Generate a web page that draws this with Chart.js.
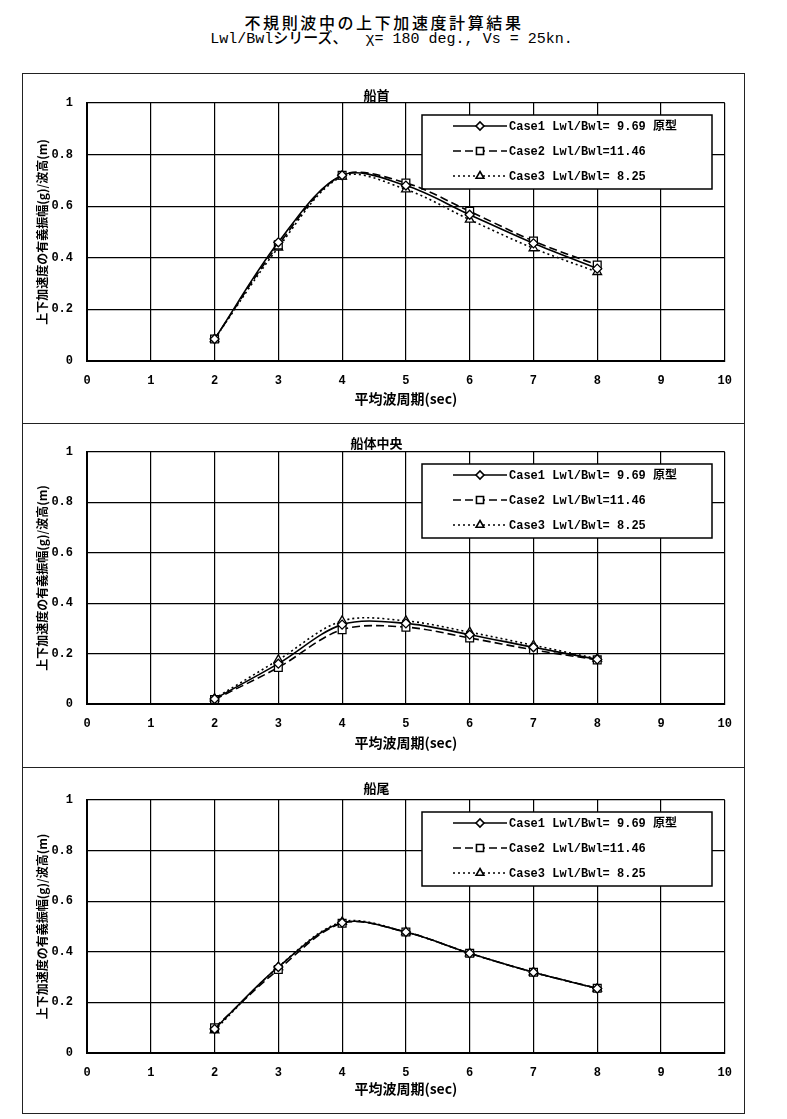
<!DOCTYPE html>
<html>
<head>
<meta charset="utf-8">
<script src="https://cdn.jsdelivr.net/npm/chart.js@4.4.1/dist/chart.umd.min.js"></script>
<style>
    body { margin: 0; background: #fff; width: 787px; height: 1119px; position: relative; overflow: hidden; }
    .hd { position: absolute; left: 0; white-space: pre; text-align: center; color: #000; }
    .frame { position: absolute; border: 1.5px solid #222; box-sizing: border-box; }
    canvas { position: absolute; }
</style>
</head>
<body>
<div class="hd" style="top:14px; width:768px; font: 500 16px/16px 'Noto Sans CJK JP'; letter-spacing: 2.6px;">不規則波中の上下加速度計算結果</div>
<div class="hd" style="top:32px; width:783px; font: 500 15px/15px 'Liberation Mono','Noto Sans CJK JP';">Lwl/Bwlシリーズ、  χ= 180 deg., Vs = 25kn.</div>

<script>
// --- Data ---

const periods = [2, 3, 4, 5, 6, 7, 8]; // 平均波周期 (sec)

const caseLabels = [
    'Case1 Lwl/Bwl= 9.69 原型',
    'Case2 Lwl/Bwl=11.46',
    'Case3 Lwl/Bwl= 8.25',
];

const panelTitles = ['船首', '船体中央', '船尾'];

// 船首
const bowCase1 = [0.085, 0.46, 0.72, 0.68, 0.567, 0.456, 0.358];
const bowCase2 = [0.085, 0.45, 0.72, 0.69, 0.58, 0.465, 0.372];
const bowCase3 = [0.085, 0.44, 0.715, 0.665, 0.548, 0.437, 0.345];

// 船体中央
const midCase1 = [0.02, 0.16, 0.315, 0.32, 0.275, 0.225, 0.177];
const midCase2 = [0.018, 0.145, 0.295, 0.305, 0.262, 0.215, 0.175];
const midCase3 = [0.022, 0.175, 0.33, 0.33, 0.285, 0.233, 0.18];

// 船尾
const sternCase1 = [0.095, 0.34, 0.515, 0.478, 0.394, 0.319, 0.255];
const sternCase2 = [0.10, 0.33, 0.513, 0.478, 0.394, 0.319, 0.256];
const sternCase3 = [0.09, 0.34, 0.518, 0.478, 0.394, 0.319, 0.255];

const xTicks = [0, 10, 1];     // min, max, step
const yTicks = [0, 1, 0.2];

const xTitle = '平均波周期(sec)';
const yTitle = '上下加速度の有義振幅(g)/波高(m)';

// --- Layout of the three framed panels (page px) ---

const panels = [
    { top: 73,  height: 351, plotTop: 30, plotGap: 63, titlePad: 14, series: [bowCase1, bowCase2, bowCase3] },
    { top: 423, height: 345, plotTop: 29, plotGap: 64, titlePad: 12, series: [midCase1, midCase2, midCase3] },
    { top: 767, height: 347, plotTop: 33, plotGap: 61, titlePad: 13, series: [sternCase1, sternCase2, sternCase3] },
];
const PANEL_LEFT = 22;
const PANEL_WIDTH = 723;

const CJK = "'Noto Sans CJK JP'";
const MONO = "'Liberation Mono', 'Noto Sans CJK JP'";

const lineStyles = [
    { borderDash: [], pointStyle: 'rectRot', pointRadius: 4.5 },
    { borderDash: [8, 4], pointStyle: 'rect', pointRadius: 5.5 },
    { borderDash: [2, 3], pointStyle: 'triangle', pointRadius: 5 },
];

// Excel-style boxed legend sitting inside the plot area, under the lines
const boxLegend = {
    id: 'boxLegend',
    beforeDatasetsDraw(chart, args, opts) {
        const { ctx, chartArea: a } = chart;
        const x0 = a.left + opts.left;
        const y0 = a.top + opts.top;
        ctx.save();
        ctx.fillStyle = '#fff';
        ctx.fillRect(x0, y0, opts.width, opts.height);
        ctx.strokeStyle = '#000';
        ctx.lineWidth = 1.5;
        ctx.strokeRect(x0, y0, opts.width, opts.height);

        chart.data.datasets.forEach((ds, i) => {
            const cy = y0 + 11 + i * 25;
            ctx.strokeStyle = '#000';
            ctx.lineWidth = 1.6;
            ctx.setLineDash(ds.borderDash);
            ctx.beginPath();
            ctx.moveTo(x0 + 31, cy);
            ctx.lineTo(x0 + 85, cy);
            ctx.stroke();
            ctx.setLineDash([]);
            ctx.fillStyle = '#fff';
            Chart.helpers.drawPoint(ctx, {
                pointStyle: ds.pointStyle,
                radius: ds.pointRadius - 0.5,
                borderWidth: 1.3,
                rotation: 0,
            }, x0 + 58, cy);
            ctx.fillStyle = '#000';
            ctx.font = 'bold 12px ' + MONO;
            ctx.textBaseline = 'middle';
            ctx.textAlign = 'left';
            ctx.fillText(ds.label, x0 + 87, cy + 1);
        });
        ctx.restore();
    },
};

function renderPanel(p, idx) {
    const frame = document.createElement('div');
    frame.className = 'frame';
    Object.assign(frame.style, {
        left: PANEL_LEFT + 'px', top: p.top + 'px',
        width: PANEL_WIDTH + 'px', height: p.height + 'px',
    });
    document.body.appendChild(frame);

    const canvas = document.createElement('canvas');
    canvas.width = PANEL_WIDTH;
    canvas.height = p.height;
    canvas.style.left = PANEL_LEFT + 'px';
    canvas.style.top = p.top + 'px';
    document.body.appendChild(canvas);

    const datasets = p.series.map((vals, i) => ({
        label: caseLabels[i],
        data: periods.map((x, k) => ({ x, y: vals[k] })),
        borderColor: '#000',
        borderWidth: 1.6,
        borderDash: lineStyles[i].borderDash,
        tension: 0.33,
        fill: false,
        pointStyle: lineStyles[i].pointStyle,
        pointRadius: lineStyles[i].pointRadius,
        pointBackgroundColor: '#fff',
        pointBorderColor: '#000',
        pointBorderWidth: 1.3,
    }));

    const titleLine = 13 * 1.2;

    new Chart(canvas.getContext('2d'), {
        type: 'line',
        data: { datasets },
        plugins: [boxLegend],
        options: {
            responsive: false,
            animation: false,
            devicePixelRatio: 1,
            layout: { padding: { left: 0, right: 14, top: 0, bottom: 0 } },
            plugins: {
                legend: { display: false },
                tooltip: { enabled: false },
                title: {
                    display: true,
                    text: panelTitles[idx],
                    color: '#000',
                    font: { family: CJK, size: 13, weight: 'bold' },
                    padding: { top: p.titlePad, bottom: p.plotTop - titleLine - p.titlePad },
                },
                boxLegend: { left: 335, top: 12, width: 290, height: 74 },
            },
            scales: {
                x: {
                    type: 'linear',
                    min: xTicks[0],
                    max: xTicks[1],
                    ticks: { stepSize: xTicks[2], color: '#000', padding: 13, font: { family: MONO, size: 12, weight: 'bold' } },
                    grid: { color: '#000', lineWidth: 1.2, drawTicks: false },
                    border: { color: '#000', width: 2 },
                    title: {
                        display: true, text: xTitle, color: '#000',
                        font: { family: CJK, size: 14, weight: 'bold' },
                        padding: { top: 0, bottom: 17 },
                    },
                    afterFit: s => { s.height = p.plotGap; },
                },
                y: {
                    min: yTicks[0],
                    max: yTicks[1],
                    ticks: {
                        stepSize: yTicks[2], color: '#000', padding: 14,
                        font: { family: MONO, size: 12, weight: 'bold' },
                        callback: v => String(Math.round(v * 10) / 10),
                    },
                    grid: { color: '#000', lineWidth: 1.2, drawTicks: false },
                    border: { color: '#000', width: 2 },
                    title: {
                        display: true, text: yTitle, color: '#000',
                        font: { family: CJK, size: 12, weight: 'bold' },
                        padding: { top: 13, bottom: 0 },
                    },
                    afterFit: s => { s.width = 65; },
                },
            },
        },
    });
}

panels.forEach(renderPanel);
</script>
</body>
</html>
